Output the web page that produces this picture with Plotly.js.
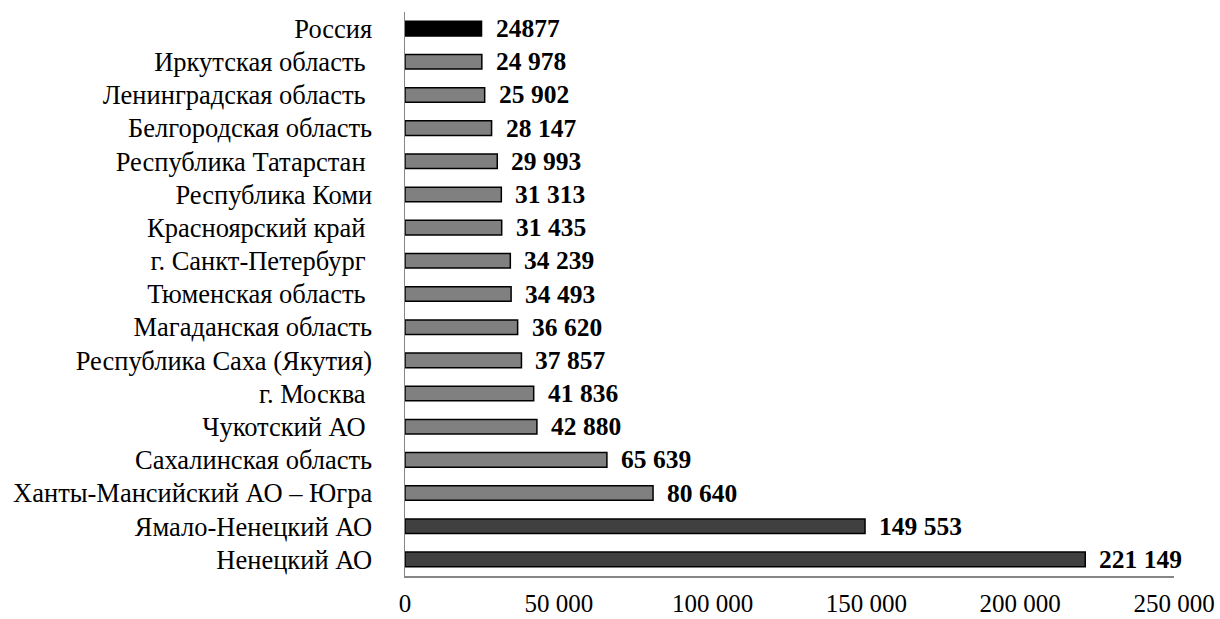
<!DOCTYPE html>
<html>
<head>
<meta charset="utf-8">
<script src="https://cdn.plot.ly/plotly-3.0.1.min.js"></script>
<style>html,body{margin:0;padding:0;background:#fff;}#chart{width:1220px;height:619px;}</style>
</head>
<body>
<div id="chart"></div>
<script>
const categories = [
  "Россия",
  "Иркутская область ",
  "Ленинградская область ",
  "Белгородская область",
  "Республика Татарстан ",
  "Республика Коми",
  "Красноярский край ",
  "г. Санкт-Петербург ",
  "Тюменская область ",
  "Магаданская область",
  "Республика Саха (Якутия)",
  "г. Москва ",
  "Чукотский АО ",
  "Сахалинская область",
  "Ханты-Мансийский АО – Югра",
  "Ямало-Ненецкий АО",
  "Ненецкий АО"
];
const values = [24877, 24978, 25902, 28147, 29993, 31313, 31435, 34239, 34493, 36620, 37857, 41836, 42880, 65639, 80640, 149553, 221149];
const valueLabels = ["24877", "24 978", "25 902", "28 147", "29 993", "31 313", "31 435", "34 239", "34 493", "36 620", "37 857", "41 836", "42 880", "65 639", "80 640", "149 553", "221 149"];
const xTickValues = [0, 50000, 100000, 150000, 200000, 250000];
const xTickLabels = ["0", "50 000", "100 000", "150 000", "200 000", "250 000"];

const colors = categories.map((c, i) => {
  if (i === 0) return "#000000";
  if (values[i] > 100000) return "#404040";
  return "#808080";
});

const fam = "Liberation Serif, Times New Roman, serif";

const trace = {
  type: "bar",
  orientation: "h",
  x: values,
  y: categories,
  width: 0.44,
  marker: {color: colors, line: {color: "#000", width: 1.5}},
  hoverinfo: "none"
};

const annotations = values.map((v, i) => ({
  x: v, y: categories[i], xref: "x", yref: "y",
  text: "<b>" + valueLabels[i] + "</b>",
  showarrow: false, xanchor: "left", yanchor: "middle",
  xshift: 12,
  font: {family: fam, size: 25.5, color: "#000"}
}));

const layout = {
  width: 1220, height: 619,
  margin: {l: 405, r: 46, t: 12, b: 43, pad: 0},
  paper_bgcolor: "#fff", plot_bgcolor: "#fff",
  showlegend: false,
  font: {family: fam, size: 25, color: "#000"},
  bargap: 0.56,
  xaxis: {
    range: [0, 250000],
    tickvals: xTickValues, ticktext: xTickLabels,
    showgrid: false, zeroline: false,
    showline: true, linecolor: "#868686", linewidth: 1.5,
    ticks: "", ticklabelstandoff: 4,
    tickfont: {family: fam, size: 25, color: "#000"}, fixedrange: true
  },
  yaxis: {
    type: "category",
    categoryorder: "array", categoryarray: categories,
    autorange: "reversed",
    showgrid: false, zeroline: false,
    showline: true, linecolor: "#868686", linewidth: 1.5,
    ticks: "", ticklabelstandoff: 26,
    tickfont: {family: fam, size: 26.5, color: "#000"}, fixedrange: true
  },
  annotations: annotations
};

Plotly.newPlot("chart", [trace], layout, {displayModeBar: false, staticPlot: true});
</script>
</body>
</html>
